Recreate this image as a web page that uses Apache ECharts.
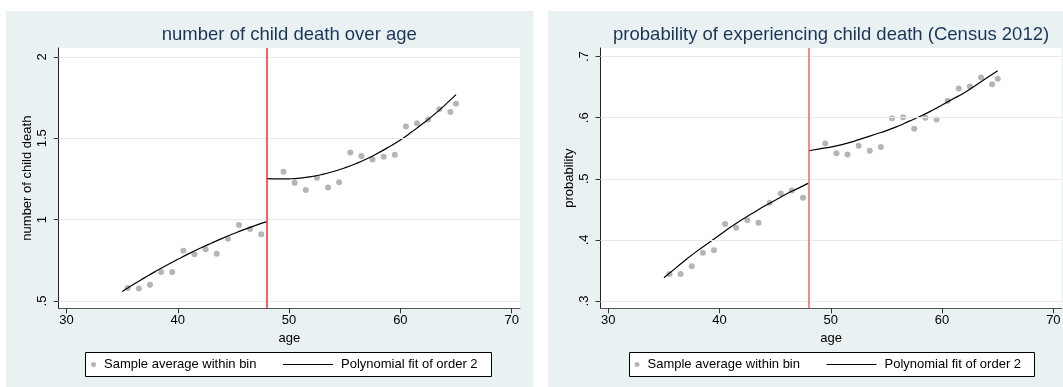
<!DOCTYPE html>
<html>
<head>
<meta charset="utf-8">
<script src="https://cdn.jsdelivr.net/npm/echarts@6/dist/echarts.min.js"></script>
<style>
html,body{margin:0;padding:0;background:#fff;}
#chart{width:1063px;height:387px;}
</style>
</head>
<body>
<div id="chart"></div>
<script>
const binAges = [35.5,36.5,37.5,38.5,39.5,40.5,41.5,42.5,43.5,44.5,45.5,46.5,47.5,
    49.5,50.5,51.5,52.5,53.5,54.5,55.5,56.5,57.5,58.5,59.5,60.5,61.5,62.5,63.5,64.5,65];

const deathBins = [0.580,0.576,0.600,0.678,0.678,0.809,0.787,0.818,0.791,0.883,0.967,0.943,0.910,
    1.295,1.227,1.182,1.258,1.197,1.230,1.412,1.391,1.369,1.387,1.399,1.572,1.592,1.615,1.678,1.662,1.713];

const probBins = [0.344,0.344,0.357,0.379,0.383,0.426,0.420,0.432,0.428,0.461,0.476,0.481,0.469,
    0.558,0.542,0.540,0.554,0.546,0.552,0.599,0.601,0.582,0.600,0.597,0.628,0.648,0.651,0.666,0.655,0.664];

const fitAgesLow = [35,36,37,38,39,40,41,42,43,44,45,46,47,48];
const fitAgesHigh = [48,49,50,51,52,53,54,55,56,57,58,59,60,61,62,63,64,65];

const deathFitLow = [0.558,0.601,0.642,0.682,0.720,0.756,0.791,0.824,0.855,0.885,0.913,0.940,0.965,0.988];
const deathFitHigh = [1.252,1.250,1.251,1.255,1.264,1.278,1.296,1.318,1.344,1.374,1.409,1.448,1.490,1.538,1.589,1.644,1.704,1.768];

const probFitLow = [0.338,0.353,0.368,0.382,0.395,0.408,0.421,0.433,0.444,0.455,0.465,0.475,0.484,0.493];
const probFitHigh = [0.546,0.549,0.552,0.556,0.561,0.567,0.573,0.579,0.586,0.594,0.602,0.611,0.621,0.631,0.641,0.653,0.665,0.677];

const cutoff = 48;
const xTicks = [30,40,50,60,70];
const deathTicks = [0.5,1,1.5,2];
const probTicks = [0.3,0.4,0.5,0.6,0.7];

const FONT = "'Liberation Sans', Arial, sans-serif";
const BIN_NAME = "Sample average within bin";
const FIT_NAME = "Polynomial fit of order 2";

function pairs(xs, ys){
    return xs.map((x, i) => [x, ys[i]]);
}

function tickLabel(v){
    return String(v).replace(/^0\./, ".");
}

function makeX(gi){
    return {
        type:"value",
        gridIndex:gi,
        min:29.3,
        max:70.75,
        name:"age",
        nameLocation:"middle",
        nameGap:19,
        nameTextStyle:{fontSize:13, color:"#000", fontFamily:FONT},
        axisLine:{show:true, onZero:false, lineStyle:{color:"#555", width:1}},
        axisTick:{show:true, length:5, customValues:xTicks, lineStyle:{color:"#333"}},
        axisLabel:{customValues:xTicks, margin:6, fontSize:13, color:"#000", fontFamily:FONT},
        splitLine:{show:false}
    };
}

function makeY(gi, min, max, ticks, name){
    return {
        type:"value",
        gridIndex:gi,
        min:min,
        max:max,
        name:name,
        nameLocation:"middle",
        nameRotate:90,
        nameGap:25,
        nameTextStyle:{fontSize:13, color:"#000", fontFamily:FONT},
        axisLine:{show:true, onZero:false, lineStyle:{color:"#222", width:1}},
        axisTick:{show:true, length:5, customValues:ticks, lineStyle:{color:"#333"}},
        axisLabel:{customValues:ticks, rotate:90, margin:10, fontSize:13, color:"#000",
            fontFamily:FONT, formatter:tickLabel},
        splitLine:{show:false}
    };
}

function panelSeries(gi, bins, fitLow, fitHigh, ticks, redColor){
    const fitStyle = {color:"#000", width:1.2};
    return [
        {
            type:"line",
            xAxisIndex:gi, yAxisIndex:gi,
            data:[],
            silent:true,
            z:1,
            markLine:{
                silent:true,
                symbol:["none","none"],
                label:{show:false},
                lineStyle:{color:"#e2eaea", width:1, type:"solid"},
                data:ticks.map(v => ({yAxis:v}))
            }
        },
        {
            type:"scatter",
            name:BIN_NAME,
            xAxisIndex:gi, yAxisIndex:gi,
            data:pairs(binAges, bins),
            symbolSize:6,
            itemStyle:{color:"#a2a2a2"},
            z:3
        },
        {
            type:"line",
            name:FIT_NAME,
            xAxisIndex:gi, yAxisIndex:gi,
            data:pairs(fitAgesLow, fitLow),
            symbol:"none",
            showSymbol:false,
            smooth:true,
            color:"#000",
            lineStyle:fitStyle,
            z:4,
            markLine:{
                silent:true,
                symbol:["none","none"],
                label:{show:false},
                lineStyle:{color:redColor, width:1.6, type:"solid"},
                data:[{xAxis:cutoff}]
            }
        },
        {
            type:"line",
            name:FIT_NAME,
            xAxisIndex:gi, yAxisIndex:gi,
            data:pairs(fitAgesHigh, fitHigh),
            symbol:"none",
            showSymbol:false,
            smooth:true,
            color:"#000",
            lineStyle:fitStyle,
            z:4
        }
    ];
}

function legendPair(dotLeft, lineLeft){
    const common = {
        top:357.5,
        padding:0,
        selectedMode:false,
        textStyle:{fontSize:13, color:"#000", fontFamily:FONT, lineHeight:14, padding:[0,0,0,3]}
    };
    return [
        Object.assign({}, common, {left:dotLeft, itemWidth:5, itemHeight:5, data:[BIN_NAME]}),
        Object.assign({}, common, {left:lineLeft, itemWidth:50, itemHeight:1,
            data:[{name:FIT_NAME, icon:"rect", itemStyle:{color:"#000"}}]})
    ];
}

const chart = echarts.init(document.getElementById("chart"));

chart.setOption({
    animation:false,
    backgroundColor:"#fff",
    textStyle:{fontFamily:FONT},

    title:[
        {
            text:"number of child death over age",
            left:289.3, top:35, padding:0,
            textAlign:"center", textVerticalAlign:"middle",
            textStyle:{fontSize:18.5, fontWeight:"normal", color:"#1c3557", fontFamily:FONT}
        },
        {
            text:"probability of experiencing child death (Census 2012)",
            left:831.1, top:35, padding:0,
            textAlign:"center", textVerticalAlign:"middle",
            textStyle:{fontSize:18.5, fontWeight:"normal", color:"#1c3557", fontFamily:FONT}
        }
    ],

    graphic:[
        {type:"rect", z:-10, silent:true, shape:{x:6, y:11, width:527.5, height:376}, style:{fill:"#eaf1f3"}},
        {type:"rect", z:-10, silent:true, shape:{x:548, y:11, width:515, height:376}, style:{fill:"#eaf1f3"}},
        {type:"rect", z:3, silent:true, shape:{x:85.5, y:352.5, width:406, height:24}, style:{fill:"#fff", stroke:"#000", lineWidth:1}},
        {type:"rect", z:3, silent:true, shape:{x:629.5, y:352.5, width:405, height:24}, style:{fill:"#fff", stroke:"#000", lineWidth:1}}
    ],

    legend:[].concat(legendPair(91, 283), legendPair(634.5, 826.5)),

    grid:[
        {left:58.7, top:48, width:461.3, height:260.3, show:true, backgroundColor:"#fff", borderWidth:0, outerBoundsMode:"none"},
        {left:600.5, top:48, width:461.2, height:260.3, show:true, backgroundColor:"#fff", borderWidth:0, outerBoundsMode:"none"}
    ],

    xAxis:[makeX(0), makeX(1)],

    yAxis:[
        makeY(0, 0.455, 2.055, deathTicks, "number of child death"),
        makeY(1, 0.288, 0.7142, probTicks, "probability")
    ],

    series:[].concat(
        panelSeries(0, deathBins, deathFitLow, deathFitHigh, deathTicks, "#f23c3c"),
        panelSeries(1, probBins, probFitLow, probFitHigh, probTicks, "#f76b6b")
    )
});
</script>
</body>
</html>
